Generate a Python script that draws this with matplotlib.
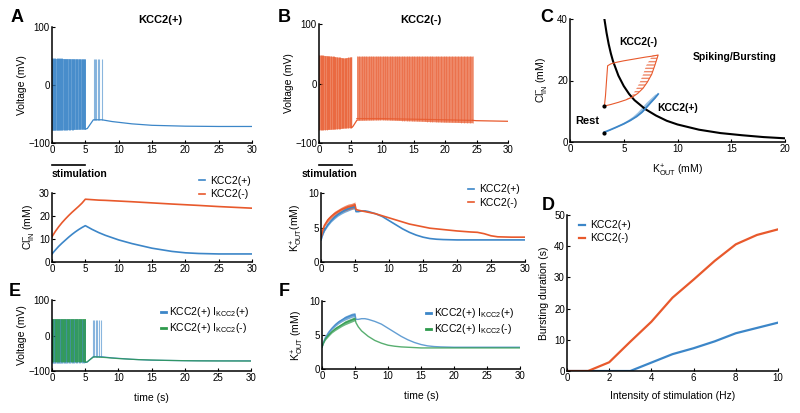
import matplotlib
matplotlib.use("Agg")
import matplotlib.pyplot as plt
import numpy as np

plt.rcParams['font.family'] = ['Liberation Sans', 'DejaVu Sans']
plt.rcParams['mathtext.fontset'] = 'custom'
plt.rcParams['mathtext.rm'] = 'Liberation Sans'
plt.rcParams['mathtext.it'] = 'Liberation Sans:italic'
plt.rcParams['mathtext.bf'] = 'Liberation Sans:bold'

BLUE = '#3c86c8'
ORANGE = '#e8592c'
GREEN = '#2e9a4c'

# ---------------- data ----------------
# Panel A: KCC2(+) voltage
a_burst1_t = [0.0, 5.0]
a_burst1_lo = [-78, -76]
a_burst1_hi = [46, 45]
a_spikes1 = [0.05, 0.2, 0.35, 0.5, 0.7, 0.85, 1.0, 1.2, 1.4, 1.55, 1.75, 1.95, 2.1, 2.3,
             2.55, 2.75, 2.95, 3.15, 3.35, 3.6, 3.8, 4.0, 4.25, 4.45, 4.65, 4.85, 5.0]
a_spikes2 = [6.25, 6.4, 6.6, 6.85, 7.1, 7.45]
a_spikes2_lo = -60
a_spikes2_hi = 45
a_base_t = [5.0, 5.3, 6.2, 7.5, 9, 12, 15, 20, 25, 30]
a_base_v = [-76, -75, -60, -60, -63, -67, -69.5, -71, -71.5, -71.5]

# Panel B: KCC2(-) voltage
b_burst1_t = [0.0, 2.0, 4.0, 5.2]
b_burst1_lo = [-78, -77, -75, -74]
b_burst1_hi = [48, 46, 43, 45]
b_spikes1 = [0.05, 0.25, 0.5, 0.7, 0.95, 1.2, 1.4, 1.65, 1.9, 2.15, 2.4, 2.6, 2.85, 3.1,
             3.35, 3.6, 3.85, 4.1, 4.35, 4.6, 4.85, 5.1]
b_burst2_t = [6.0, 10.0, 15.0, 20.0, 24.4]
b_burst2_lo = [-62, -61, -63, -65, -66]
b_burst2_hi = [46, 46, 46, 46, 46]
b_spikes2 = [6.1, 6.4, 6.8, 7.1, 7.5, 7.9, 8.2, 8.6, 9.0, 9.3, 9.7, 10.1, 10.5, 10.8, 11.2,
             11.6, 12.0, 12.4, 12.7, 13.1, 13.5, 13.9, 14.3, 14.7, 15.1, 15.5, 15.9, 16.3,
             16.8, 17.2, 17.6, 18.0, 18.5, 18.9, 19.3, 19.8, 20.2, 20.7, 21.1, 21.6, 22.0,
             22.5, 23.0, 23.5, 24.0, 24.4]
b_base1_t = [5.2, 5.4, 6.0]
b_base1_v = [-74, -72, -62]
b_base2_t = [6.0, 10, 15, 20, 24.4]
b_base2_v = [-59, -59, -60, -61, -62]
b_base3_t = [24.4, 25, 30]
b_base3_v = [-62, -62.5, -63.5]

# Chloride (A bottom)
t_cl = [0, 0.5, 1, 1.5, 2, 2.5, 3, 3.5, 4, 4.5, 5, 5.5, 6, 7, 8, 10, 12, 15, 18, 20, 22, 25, 30]
cl_pos = [3.5, 5.2, 6.8, 8.2, 9.5, 10.8, 12.0, 13.1, 14.1, 15.0, 15.8, 15.0, 14.2, 12.8,
          11.6, 9.6, 8.0, 6.0, 4.6, 4.0, 3.7, 3.5, 3.5]
cl_neg = [11.0, 13.3, 15.3, 17.1, 18.7, 20.2, 21.6, 22.9, 24.2, 25.6, 27.3, 27.2, 27.1,
          26.9, 26.8, 26.5, 26.2, 25.7, 25.2, 24.9, 24.6, 24.1, 23.4]

# Potassium (B bottom, F)
t_k = [0, 0.25, 0.5, 1, 1.5, 2, 2.5, 3, 3.5, 4, 4.5, 5.0, 5.15, 5.5, 6, 6.5, 7, 8, 9, 10,
       11, 12, 13, 14, 15, 16, 17, 18, 20, 22, 23, 24, 25, 26, 28, 30]
k_pos = [3.2, 4.0, 4.6, 5.4, 6.0, 6.5, 6.9, 7.2, 7.5, 7.7, 7.9, 8.0, 7.3, 7.3, 7.4, 7.4,
         7.3, 7.0, 6.6, 6.0, 5.4, 4.8, 4.3, 3.9, 3.6, 3.4, 3.3, 3.25, 3.2, 3.2, 3.2, 3.2,
         3.2, 3.2, 3.2, 3.2]
k_neg = [3.5, 4.6, 5.3, 6.1, 6.6, 7.0, 7.3, 7.6, 7.8, 8.0, 8.1, 8.3, 7.6, 7.5, 7.4, 7.3,
         7.2, 7.0, 6.7, 6.4, 6.1, 5.8, 5.5, 5.3, 5.1, 4.9, 4.8, 4.7, 4.5, 4.35, 4.3, 4.1,
         3.8, 3.65, 3.6, 3.6]
k_green = [3.2, 3.9, 4.4, 5.0, 5.5, 5.9, 6.2, 6.5, 6.8, 7.0, 7.2, 7.4, 6.8, 6.2, 5.6, 5.2,
           4.8, 4.2, 3.8, 3.5, 3.35, 3.25, 3.2, 3.15, 3.1, 3.1, 3.1, 3.1, 3.1, 3.1, 3.1,
           3.1, 3.1, 3.1, 3.1, 3.1]
# oscillation half-width during stimulation (first 12 samples of t_k)
k_pos_hw = [0, 0.1, 0.15, 0.2, 0.2, 0.25, 0.25, 0.25, 0.3, 0.3, 0.3, 0.3]
k_neg_hw = [0, 0.15, 0.2, 0.3, 0.3, 0.35, 0.35, 0.35, 0.4, 0.4, 0.4, 0.4]
k_green_hw = [0, 0.1, 0.15, 0.2, 0.2, 0.25, 0.25, 0.25, 0.3, 0.3, 0.3, 0.3]

# Panel C
c_curve_k = [3.2, 3.4, 3.6, 3.8, 4.0, 4.5, 5.0, 5.5, 6.0, 7.0, 8.0, 9.0, 10.0, 12.0, 14.0,
             16.0, 18.0, 20.0]
c_curve_cl = [40, 35.5, 31.8, 28.8, 26.3, 21.6, 18.2, 15.6, 13.6, 10.7, 8.6, 6.9, 5.7, 4.0,
              2.9, 2.2, 1.6, 1.2]
c_neg_k = [3.2, 3.8, 4.5, 5.2, 5.8, 6.3, 6.8, 7.2, 7.6, 7.9, 8.2,
           7.8, 7.0, 6.0, 5.0, 4.3, 3.8, 3.5, 3.4, 3.3, 3.2]
c_neg_cl = [11.7, 12.2, 12.9, 13.7, 14.6, 15.8, 17.5, 19.5, 22.0, 25.0, 28.3,
            28.0, 27.6, 27.0, 26.4, 25.9, 25.4, 24.8, 20.0, 15.0, 11.7]
c_neg_band = [0, 0, 0, 0.1, 0.2, 0.4, 0.6, 0.7, 0.8, 0.8, 0.5]
c_pos_k = [3.2, 3.7, 4.3, 5.0, 5.6, 6.2, 6.7, 7.1, 7.5, 7.9, 8.2]
c_pos_cl = [3.2, 3.9, 4.8, 5.9, 7.0, 8.3, 9.7, 11.2, 12.8, 14.3, 15.6]
c_pos_band = [0, 0.15, 0.25, 0.3, 0.35, 0.4, 0.45, 0.45, 0.45, 0.4, 0.3]
c_rest_k = [3.2, 3.2]
c_rest_cl = [11.7, 2.9]

# Panel D
hz = [0, 1, 2, 3, 4, 5, 6, 7, 8, 9, 10]
dur_pos = [0, 0, 0, 0, 2.7, 5.4, 7.3, 9.5, 12.1, 13.8, 15.5]
dur_neg = [0, 0, 2.8, 9.4, 15.8, 23.5, 29.3, 35.3, 40.6, 43.6, 45.4]

# Panel E: green trace (KCC2(+) with I_KCC2(-))
e_burst_t = [0.0, 5.1]
e_burst_lo = [-75, -75]
e_burst_hi = [46, 46]
e_spikes = [0.05, 0.2, 0.4, 0.55, 0.75, 0.9, 1.1, 1.3, 1.45, 1.65, 1.85, 2.0, 2.2, 2.4,
            2.6, 2.8, 3.0, 3.2, 3.4, 3.6, 3.8, 4.0, 4.2, 4.4, 4.6, 4.8, 5.0]
e_base_t = [5.1, 5.3, 6.3, 8, 10, 13, 17, 22, 30]
e_base_v = [-75, -74, -60, -62, -65, -68, -70, -71.5, -72]

# ---------------- figure ----------------
W, H = 800, 413
fig = plt.figure(figsize=(8, 4.13), dpi=100)


def px_axes(x0, x1, y0, y1):
    return fig.add_axes([x0 / W, 1 - y1 / H, (x1 - x0) / W, (y1 - y0) / H])


def style(ax):
    for s in ['top', 'right']:
        ax.spines[s].set_visible(False)
    for s in ['left', 'bottom']:
        ax.spines[s].set_linewidth(1.1)
    ax.tick_params(direction='in', length=2.5, width=0.8, labelsize=7, pad=1.5)


def voltage_axes(ax):
    ax.set_xlim(0, 30)
    ax.set_ylim(-100, 100)
    ax.set_xticks([0, 5, 10, 15, 20, 25, 30])
    ax.set_yticks([-100, 0, 100])
    ax.set_ylabel('Voltage (mV)', fontsize=7.5, labelpad=1)


def draw_burst(ax, t, lo, hi, spikes, color, fa=0.55, la=0.6):
    ax.fill_between(t, lo, hi, color=color, alpha=fa, lw=0)
    lo_i = np.interp(spikes, t, lo)
    hi_i = np.interp(spikes, t, hi)
    ax.vlines(spikes, lo_i, hi_i, color=color, alpha=la, lw=0.7)


def fig_text(x, y, s, **kw):
    fig.text(x / W, 1 - y / H, s, **kw)


# ---- A top
axA = px_axes(52, 252, 27, 143)
style(axA)
voltage_axes(axA)
draw_burst(axA, a_burst1_t, a_burst1_lo, a_burst1_hi, a_spikes1, BLUE, 0.8, 0.7)
axA.vlines(a_spikes2, a_spikes2_lo, a_spikes2_hi, color=BLUE, alpha=0.6, lw=0.8)
axA.plot(a_base_t, a_base_v, color=BLUE, lw=0.9)

# ---- B top
axB = px_axes(319, 508, 24, 143)
style(axB)
voltage_axes(axB)
draw_burst(axB, b_burst1_t, b_burst1_lo, b_burst1_hi, b_spikes1, ORANGE, 0.75, 0.6)
axB.fill_between(b_burst2_t, b_burst2_lo, b_burst2_hi, color=ORANGE, alpha=0.72, lw=0)
lo2 = np.interp(b_spikes2, b_burst2_t, b_burst2_lo)
axB.vlines(b_spikes2, lo2, 46, color=ORANGE, alpha=0.45, lw=0.7)
axB.plot(b_base1_t, b_base1_v, color=ORANGE, lw=0.9)
axB.plot(b_base2_t, b_base2_v, color=ORANGE, lw=0.9, alpha=0.8)
axB.plot(b_base3_t, b_base3_v, color=ORANGE, lw=0.9)

# stimulation bars
for (x0, x1, tx) in [(52, 85, 52), (319, 352, 302)]:
    fig.add_artist(plt.Line2D([x0 / W, x1 / W], [1 - 165 / H, 1 - 165 / H],
                              color='black', lw=1.2))
    fig_text(tx, 174, 'stimulation', fontsize=7.5, fontweight='bold', va='center', ha='left')

# ---- A bottom (Cl)
axCl = px_axes(52, 252, 193, 262)
style(axCl)
axCl.plot(t_cl, cl_pos, color=BLUE, lw=1.2, label='KCC2(+)')
axCl.plot(t_cl, cl_neg, color=ORANGE, lw=1.2, label='KCC2(-)')
axCl.set_xlim(0, 30)
axCl.set_ylim(0, 30)
axCl.set_xticks([0, 5, 10, 15, 20, 25, 30])
axCl.set_yticks([0, 10, 20, 30])
axCl.set_ylabel(r'Cl$^{-}_{\mathrm{IN}}$ (mM)', fontsize=7.5, labelpad=2)
axCl.legend(loc='upper right', bbox_to_anchor=(1.02, 1.32), frameon=False, fontsize=7.5,
            handlelength=0.6, handletextpad=0.5, labelspacing=0.3, borderpad=0)

# ---- B bottom (K)
axK = px_axes(321, 525, 193, 262)
style(axK)
n = len(k_pos_hw)
axK.fill_between(t_k[:n], np.array(k_pos[:n]) - k_pos_hw, np.array(k_pos[:n]) + k_pos_hw,
                 color=BLUE, alpha=0.7, lw=0)
axK.fill_between(t_k[:n], np.array(k_neg[:n]) - k_neg_hw, np.array(k_neg[:n]) + k_neg_hw,
                 color=ORANGE, alpha=0.7, lw=0)
axK.plot(t_k, k_pos, color=BLUE, lw=1.2, label='KCC2(+)')
axK.plot(t_k, k_neg, color=ORANGE, lw=1.2, label='KCC2(-)')
axK.set_xlim(0, 30)
axK.set_ylim(0, 10)
axK.set_xticks([0, 5, 10, 15, 20, 25, 30])
axK.set_yticks([0, 5, 10])
axK.set_ylabel(r'K$^{+}_{\mathrm{OUT}}$(mM)', fontsize=7.5, labelpad=2)
axK.legend(loc='upper right', bbox_to_anchor=(1.0, 1.2), frameon=False, fontsize=7.5,
           handlelength=0.6, handletextpad=0.5, labelspacing=0.3, borderpad=0)

# ---- C
axC = px_axes(570, 785, 19, 142)
style(axC)
axC.plot(c_curve_k, c_curve_cl, color='black', lw=1.5)
m = len(c_neg_band)
kn = np.array(c_neg_k[:m])
axC.fill_betweenx(c_neg_cl[:m], kn - np.array(c_neg_band), kn, facecolor='none',
                  edgecolor=ORANGE, hatch='-----', lw=0, alpha=0.7)
axC.plot(c_neg_k, c_neg_cl, color=ORANGE, lw=0.8)
kp = np.array(c_pos_k)
axC.fill_betweenx(c_pos_cl, kp - np.array(c_pos_band), kp, color=BLUE, alpha=0.5, lw=0)
axC.plot(c_pos_k, c_pos_cl, color=BLUE, lw=1.3)
axC.plot(c_rest_k, c_rest_cl, 'o', color='black', ms=2, ls='none')
axC.set_xlim(0, 20)
axC.set_ylim(0, 40)
axC.set_xticks([0, 5, 10, 15, 20])
axC.set_yticks([0, 20, 40])
axC.set_xlabel(r'K$^{+}_{\mathrm{OUT}}$ (mM)', fontsize=7.5, labelpad=6)
axC.set_ylabel(r'Cl$^{-}_{\mathrm{IN}}$ (mM)', fontsize=7.5, labelpad=6)
axC.text(4.6, 32.5, 'KCC2(-)', fontsize=7.5, fontweight='bold', va='center')
axC.text(11.4, 27.8, 'Spiking/Bursting', fontsize=7.5, fontweight='bold', va='center')
axC.text(8.1, 11.2, 'KCC2(+)', fontsize=7.5, fontweight='bold', va='center')
axC.text(0.5, 6.8, 'Rest', fontsize=8, fontweight='bold', va='center')

# ---- D
axD = px_axes(567, 778, 215, 371)
style(axD)
axD.plot(hz, dur_pos, color=BLUE, lw=1.6, label='KCC2(+)')
axD.plot(hz, dur_neg, color=ORANGE, lw=1.6, label='KCC2(-)')
axD.set_xlim(0, 10)
axD.set_ylim(0, 50)
axD.set_xticks([0, 2, 4, 6, 8, 10])
axD.set_yticks([0, 10, 20, 30, 40, 50])
axD.set_xlabel('Intensity of stimulation (Hz)', fontsize=7.5, labelpad=6)
axD.set_ylabel('Bursting duration (s)', fontsize=7.5, labelpad=4)
axD.legend(loc='upper left', bbox_to_anchor=(0.03, 1.0), frameon=False, fontsize=7.5,
           handlelength=0.6, handletextpad=0.5, labelspacing=0.3, borderpad=0)

# ---- E
axE = px_axes(52, 251, 300, 371)
style(axE)
voltage_axes(axE)
draw_burst(axE, a_burst1_t, a_burst1_lo, a_burst1_hi, a_spikes1, BLUE, 0.5, 0.5)
axE.vlines(a_spikes2, a_spikes2_lo, a_spikes2_hi, color=BLUE, alpha=0.6, lw=0.8)
axE.plot(a_base_t, a_base_v, color=BLUE, lw=0.9)
draw_burst(axE, e_burst_t, e_burst_lo, e_burst_hi, e_spikes, GREEN, 0.8, 0.7)
axE.plot(e_base_t, e_base_v, color=GREEN, lw=0.9, alpha=0.8)
axE.set_xlabel('time (s)', fontsize=7.5, labelpad=7)
hE = [plt.Line2D([], [], color=BLUE, lw=2), plt.Line2D([], [], color=GREEN, lw=2)]
labE = [r'KCC2(+) I$_{\mathrm{KCC2}}$(+)', r'KCC2(+) I$_{\mathrm{KCC2}}$(-)']
axE.legend(hE, labE, loc='upper right', bbox_to_anchor=(1.02, 1.0), frameon=False,
           fontsize=7.5, handlelength=0.5, handletextpad=0.3, labelspacing=0.2, borderpad=0)

# ---- F
axF = px_axes(322, 520, 301, 369)
style(axF)
axF.fill_between(t_k[:n], np.array(k_pos[:n]) - k_pos_hw, np.array(k_pos[:n]) + k_pos_hw,
                 color=BLUE, alpha=0.7, lw=0)
axF.fill_between(t_k[:n], np.array(k_green[:n]) - k_green_hw,
                 np.array(k_green[:n]) + k_green_hw, color=GREEN, alpha=0.7, lw=0)
axF.plot(t_k, k_pos, color=BLUE, lw=1.0, alpha=0.8)
axF.plot(t_k, k_green, color=GREEN, lw=1.0, alpha=0.8)
axF.set_xlim(0, 30)
axF.set_ylim(0, 10)
axF.set_xticks([0, 5, 10, 15, 20, 25, 30])
axF.set_yticks([0, 5, 10])
axF.set_ylabel(r'K$^{+}_{\mathrm{OUT}}$ (mM)', fontsize=7.5, labelpad=2)
axF.set_xlabel('time (s)', fontsize=7.5, labelpad=7)
axF.legend(hE, labE, loc='upper right', bbox_to_anchor=(1.0, 1.0), frameon=False,
           fontsize=7.5, handlelength=0.5, handletextpad=0.3, labelspacing=0.2, borderpad=0)

# titles and panel letters
fig_text(160, 20, 'KCC2(+)', fontsize=8, fontweight='bold', ha='center', va='center')
fig_text(421, 20, 'KCC2(-)', fontsize=8, fontweight='bold', ha='center', va='center')
for (x, y, s) in [(17, 18, 'A'), (284, 18, 'B'), (547, 17, 'C'), (548, 206, 'D'),
                  (15, 292, 'E'), (284, 292, 'F')]:
    fig_text(x, y, s, fontsize=13, fontweight='bold', ha='center', va='center')

fig.savefig('out.png', dpi=100)
